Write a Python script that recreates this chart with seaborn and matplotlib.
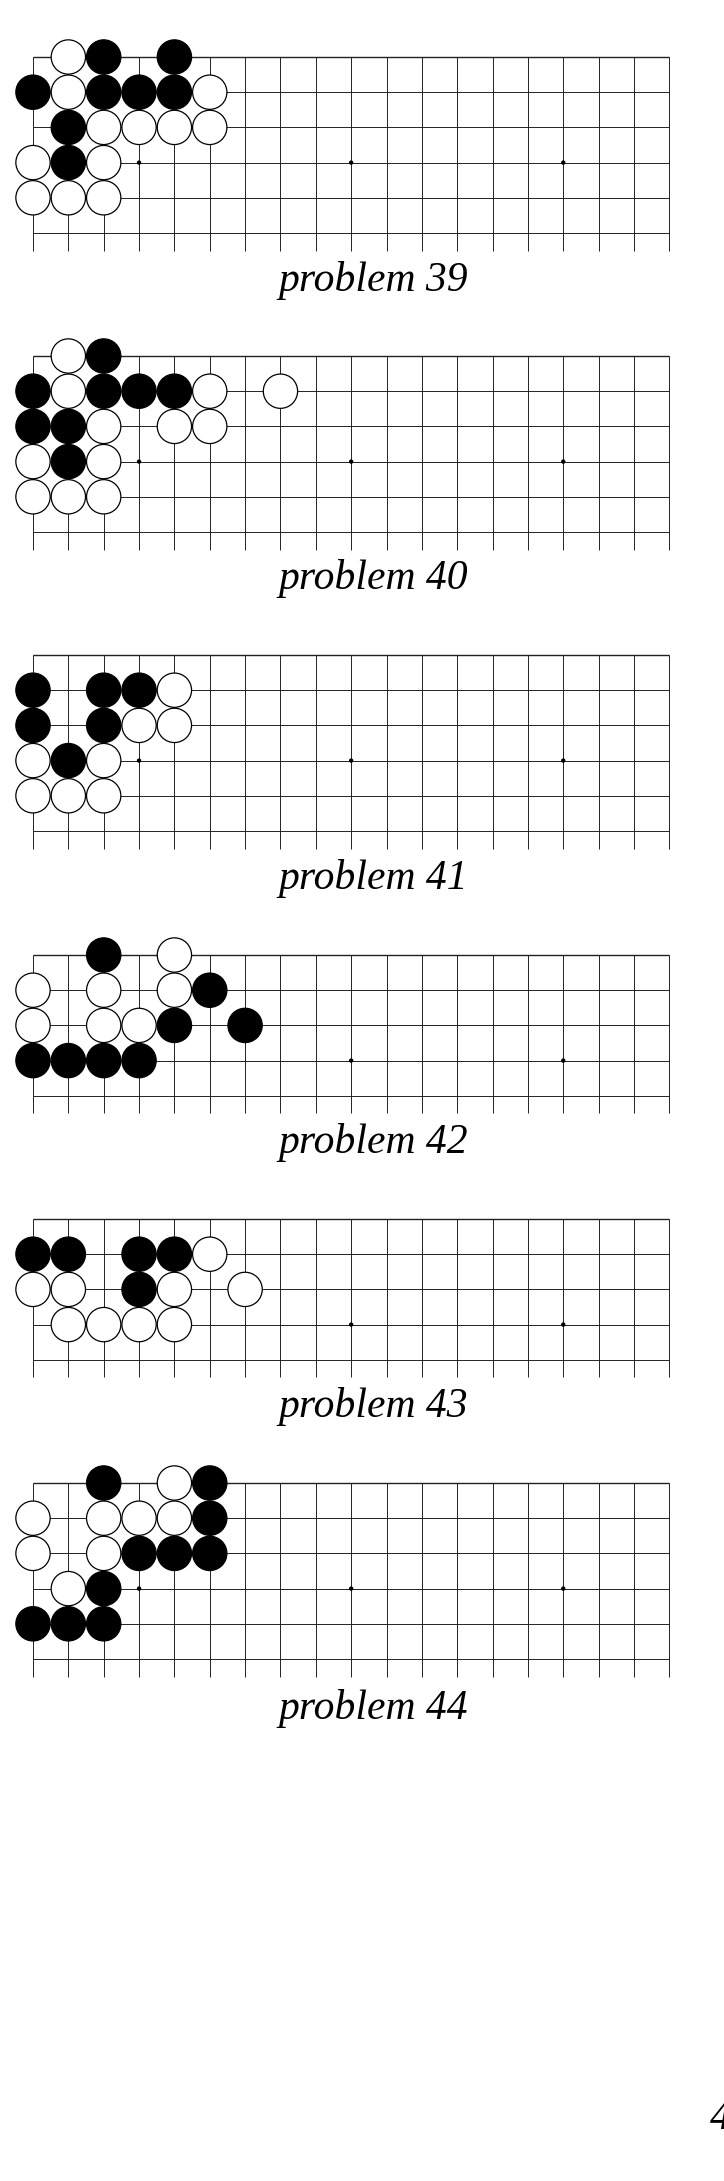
import numpy as np
import pandas as pd
import matplotlib
matplotlib.use("Agg")
import matplotlib.pyplot as plt
import seaborn as sns

# ---- data: stones as (row, col) per problem ----
problems = [39, 40, 41, 42, 43, 44]
board_rows = [6, 6, 6, 5, 5, 6]
black = [
    [(0, 2), (0, 4), (1, 0), (1, 2), (1, 3), (1, 4), (2, 1), (3, 1)],
    [(0, 2), (1, 0), (1, 2), (1, 3), (1, 4), (2, 0), (2, 1), (3, 1)],
    [(1, 0), (1, 2), (1, 3), (2, 0), (2, 2), (3, 1)],
    [(0, 2), (1, 5), (2, 4), (2, 6), (3, 0), (3, 1), (3, 2), (3, 3)],
    [(1, 0), (1, 1), (1, 3), (1, 4), (2, 3)],
    [(0, 2), (0, 5), (1, 5), (2, 3), (2, 4), (2, 5), (3, 2), (4, 0), (4, 1), (4, 2)],
]
white = [
    [(0, 1), (1, 1), (1, 5), (2, 2), (2, 3), (2, 4), (2, 5), (3, 0), (3, 2), (4, 0), (4, 1), (4, 2)],
    [(0, 1), (1, 1), (1, 5), (1, 7), (2, 2), (2, 4), (2, 5), (3, 0), (3, 2), (4, 0), (4, 1), (4, 2)],
    [(1, 4), (2, 3), (2, 4), (3, 0), (3, 2), (4, 0), (4, 1), (4, 2)],
    [(0, 4), (1, 0), (1, 2), (1, 4), (2, 0), (2, 2), (2, 3)],
    [(1, 5), (2, 0), (2, 1), (2, 4), (2, 6), (3, 1), (3, 2), (3, 3), (3, 4)],
    [(0, 4), (1, 0), (1, 2), (1, 3), (1, 4), (2, 0), (2, 2), (3, 1)],
]
star_points = [(3, 3), (3, 9), (3, 15)]
page_number = "4"

# ---- layout (pixels) ----
W, H = 724, 2181
x0, dx = 33, 35.35
dy = 35.2
tops = [57, 356, 655, 955, 1219, 1483]
caption_y = [280, 579, 878, 1143, 1407, 1708]
ncols = 19

fig = plt.figure(figsize=(W / 100, H / 100), dpi=100)
ax = fig.add_axes([0, 0, 1, 1])
ax.set_xlim(0, W)
ax.set_ylim(H, 0)
ax.axis("off")

def pt(rc, top):
    r, c = rc
    return x0 + c * dx, top + r * dy

for i, p in enumerate(problems):
    top = tops[i]
    nr = board_rows[i]
    xs = x0 + np.arange(ncols) * dx
    ys = top + np.arange(nr) * dy
    bottom = ys[-1] + 0.5 * dy
    ax.hlines(ys, xs[0], xs[-1], color="#222222", lw=0.7, zorder=1)
    ax.hlines(top, xs[0], xs[-1], color="#222222", lw=1.0, zorder=1)
    ax.vlines(xs, top, bottom, color="#222222", lw=0.7, zorder=1)

    occupied = set(black[i]) | set(white[i])
    stars = [s for s in star_points if s[0] < nr and s not in occupied]
    sdf = pd.DataFrame([pt(s, top) for s in stars], columns=["x", "y"])
    sns.scatterplot(data=sdf, x="x", y="y", ax=ax, s=10, color="black",
                    edgecolor="none", zorder=2, legend=False)

    rows = [(*pt(s, top), "black") for s in black[i]] + \
           [(*pt(s, top), "white") for s in white[i]]
    df = pd.DataFrame(rows, columns=["x", "y", "stone"])
    sns.scatterplot(data=df, x="x", y="y", hue="stone", ax=ax,
                    palette={"black": "black", "white": "white"},
                    s=610, edgecolor="black", linewidth=0.9, zorder=3, legend=False)

    ax.text(373, caption_y[i], f"problem {p}", ha="center", va="center",
            fontsize=30, style="italic", family="Liberation Serif")

ax.text(710, 2119, page_number, ha="left", va="center", fontsize=30,
        style="italic", family="Liberation Serif")
ax.set_xlabel("")
ax.set_ylabel("")
fig.savefig("out.png", dpi=100)
